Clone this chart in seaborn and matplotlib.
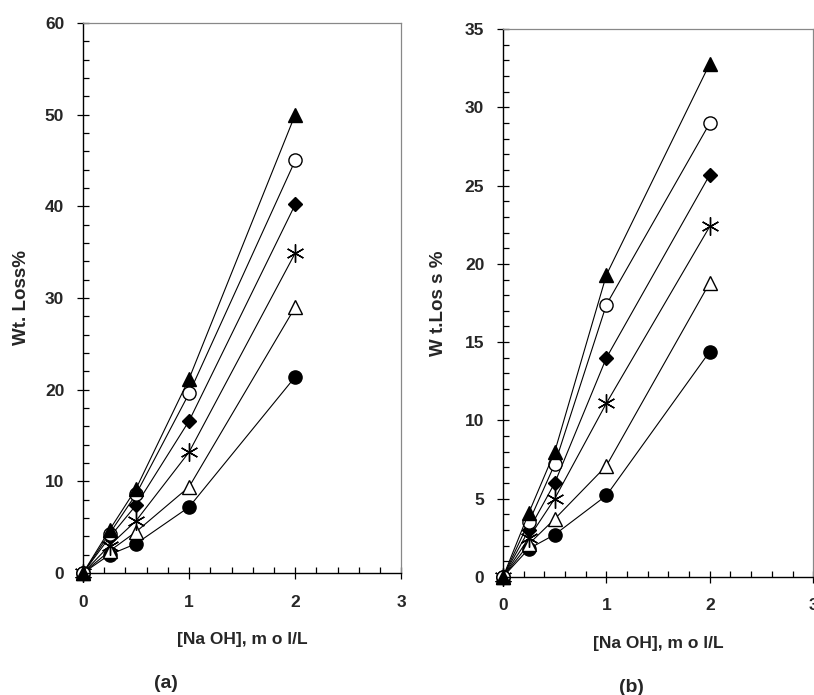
import numpy as np
import pandas as pd
import matplotlib
matplotlib.use("Agg")
import matplotlib.pyplot as plt
from matplotlib.ticker import MultipleLocator, AutoMinorLocator
import seaborn as sns

# NaOH concentration, mol/L
naoh = [0, 0.25, 0.5, 1, 2]

# panel (a) weight loss %
a_tri_filled = [0, 4.7, 9.2, 21.2, 50.0]
a_circ_open = [0, 4.3, 8.6, 19.6, 45.0]
a_diamond = [0, 3.9, 7.4, 16.6, 40.2]
a_star = [0, 3.0, 5.7, 13.2, 34.9]
a_tri_open = [0, 2.4, 4.5, 9.4, 29.0]
a_circ_filled = [0, 2.0, 3.2, 7.2, 21.4]

# panel (b) weight loss %
b_tri_filled = [0, 4.1, 8.0, 19.3, 32.8]
b_circ_open = [0, 3.5, 7.2, 17.4, 29.0]
b_diamond = [0, 3.0, 6.0, 14.0, 25.7]
b_star = [0, 2.5, 5.0, 11.1, 22.4]
b_tri_open = [0, 2.1, 3.7, 7.1, 18.8]
b_circ_filled = [0, 1.8, 2.7, 5.2, 14.4]

# marker styles: (marker, size, face)
styles = [
    ("o", 9.5, "black"),
    ("^", 10.5, "white"),
    ((6, 2, 0), 13, "none"),
    ("D", 7.5, "black"),
    ("o", 9.5, "white"),
    ("^", 10.5, "black"),
]

sns.set_style("ticks")
plt.rcParams['font.family'] = ['Liberation Sans', 'DejaVu Sans']
plt.rcParams['font.weight'] = 'bold'

fig = plt.figure(figsize=(8.14, 6.95), dpi=100)
ax_a = fig.add_axes([0.102, 0.1755, 0.391, 0.7915])
ax_b = fig.add_axes([0.618, 0.170, 0.381, 0.788])


def draw_panel(ax, series, ymax, ymajor, ylabel, ylabelpad):
    for vals, (mk, ms, face) in zip(series, styles):
        df = pd.DataFrame({"x": naoh, "y": vals})
        sns.lineplot(data=df, x="x", y="y", ax=ax, color="black", lw=0.8,
                     marker=mk, markersize=ms, markerfacecolor=face,
                     markeredgecolor="black", markeredgewidth=1.0,
                     clip_on=False)
    ax.set_xlim(0, 3)
    ax.set_ylim(0, ymax)
    ax.xaxis.set_major_locator(MultipleLocator(1))
    ax.yaxis.set_major_locator(MultipleLocator(ymajor))
    ax.xaxis.set_minor_locator(AutoMinorLocator(5))
    ax.yaxis.set_minor_locator(AutoMinorLocator(5))
    ax.tick_params(which="major", direction="inout", length=9, width=0.9,
                   labelsize=12.5, color="black")
    ax.tick_params(axis="y", which="major", pad=9)
    ax.tick_params(axis="x", which="major", pad=11)
    ax.tick_params(which="minor", direction="in", length=4, width=0.9,
                   color="black")
    for lab in ax.get_xticklabels() + ax.get_yticklabels():
        lab.set_fontweight("bold")
    for side in ["left", "bottom"]:
        ax.spines[side].set_color("black")
        ax.spines[side].set_linewidth(1.0)
    for side in ["top", "right"]:
        ax.spines[side].set_visible(True)
        ax.spines[side].set_color("#888888")
        ax.spines[side].set_linewidth(0.9)
    ax.set_xlabel("[Na OH], m o l/L", fontsize=12.5, fontweight="bold",
                  labelpad=16)
    ax.set_ylabel(ylabel, fontsize=13.5, fontweight="bold", labelpad=ylabelpad)


draw_panel(ax_a, [a_circ_filled, a_tri_open, a_star, a_diamond, a_circ_open,
                  a_tri_filled], 60, 10, "Wt. Loss%", 11)
draw_panel(ax_b, [b_circ_filled, b_tri_open, b_star, b_diamond, b_circ_open,
                  b_tri_filled], 35, 5, "W t.Los s %", 13)

fig.text(166 / 814, 1 - 683 / 695, "(a)", fontsize=14, fontweight="bold",
         ha="center", va="center")
fig.text(631 / 814, 1 - 687 / 695, "(b)", fontsize=14, fontweight="bold",
         ha="center", va="center")

fig.savefig("out.png", dpi=100)
